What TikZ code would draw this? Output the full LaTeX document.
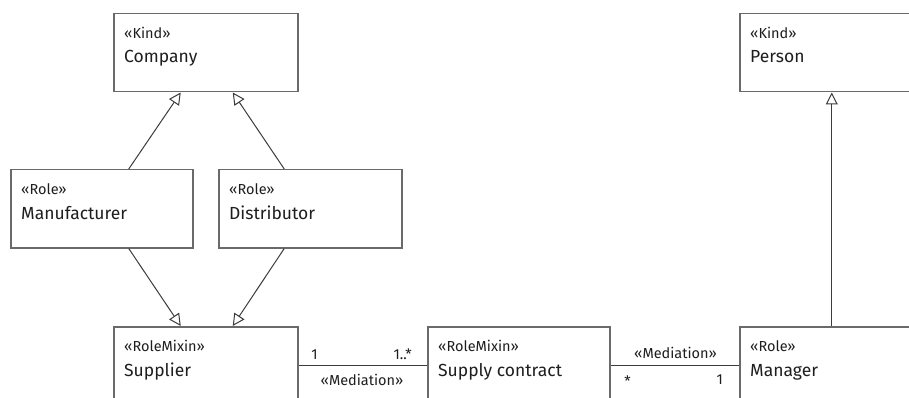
\documentclass[tikz,border=0pt]{standalone}
\usepackage{fontspec}
\setmainfont{Fira Sans}
\usetikzlibrary{arrows.meta}

\definecolor{framegray}{HTML}{6A6A6A}
\definecolor{linegray}{HTML}{3C3C3C}
\definecolor{inkdark}{HTML}{1E1E1E}

\tikzset{
  classbox/.style={draw=framegray, line width=1.5pt, fill=white, anchor=north west,
    minimum width=184pt, minimum height=78pt, inner sep=0pt},
  stereo/.style={anchor=base west, inner sep=0pt, text=inkdark, font=\fontsize{14.5}{16}\selectfont},
  cname/.style={anchor=base west, inner sep=0pt, text=inkdark, font=\fontsize{17.5}{20}\selectfont},
  lbl/.style={inner sep=0pt, text=inkdark, font=\fontsize{14.5}{16}\selectfont},
  generalize/.style={draw=linegray, line width=1pt,
    -{Triangle[open, length=12pt, width=12pt, line width=1pt, fill=white]}},
  assoc/.style={draw=linegray, line width=1pt},
}

\begin{document}
\begin{tikzpicture}[x=1pt, y=-1pt]
  \useasboundingbox (0,0) rectangle (909,398);
  \clip (0,0) rectangle (909,398);
  \fill[white] (0,0) rectangle (909,398);

  % classes
  \node[classbox] (company) at (113,13) {};
  \node[classbox] (person) at (739,13) {};
  \node[classbox, minimum width=182pt] (manufacturer) at (10,169) {};
  \node[classbox, minimum width=183pt] (distributor) at (218,169) {};
  \node[classbox] (supplier) at (113,326) {};
  \node[classbox, minimum width=182pt] (contract) at (427,326) {};
  \node[classbox] (manager) at (739,326) {};

  % stereotypes and names
  \foreach \n/\s/\t in {company/Kind/Company, person/Kind/Person,
      manufacturer/Role/Manufacturer, distributor/Role/Distributor,
      supplier/RoleMixin/Supplier, contract/RoleMixin/Supply contract,
      manager/Role/Manager}{
    \node[stereo] (\n-st) at ([xshift=11pt, yshift=-25.5pt]\n.north west) {«\s»};
    \node[cname] (\n-nm) at ([xshift=11pt, yshift=-50pt]\n.north west) {\t};
  }

  % generalizations
  \draw[generalize] ([xshift=27pt]manufacturer.north) -- ([xshift=-25pt]company.south);
  \draw[generalize] ([xshift=-26pt]distributor.north) -- ([xshift=27pt]company.south);
  \draw[generalize] ([xshift=27pt]manufacturer.south) -- ([xshift=-25pt]supplier.north);
  \draw[generalize] ([xshift=-26pt]distributor.south) -- ([xshift=27pt]supplier.north);
  \draw[generalize] (manager.north) -- (person.south);

  % mediations
  \draw[assoc] (supplier.east) -- (contract.west);
  \draw[assoc] (contract.east) -- (manager.west);

  % association labels
  \node[lbl, anchor=base] (m1a) at ([xshift=16pt, yshift=6pt]supplier.east) {1};
  \node[lbl, anchor=base east] (m1b) at ([xshift=-15pt, yshift=6pt]contract.west) {1..*};
  \node[lbl, anchor=base] (med1) at ([xshift=-65pt, yshift=-20pt]contract.west) {«Mediation»};
  \node[lbl, anchor=base] (med2) at ([xshift=65pt, yshift=7pt]contract.east) {«Mediation»};
  \node[lbl, anchor=base] (m2a) at ([xshift=17pt, yshift=-21pt]contract.east) {*};
  \node[lbl, anchor=base east] (m2b) at ([xshift=-16pt, yshift=-19pt]manager.west) {1};
\end{tikzpicture}
\end{document}
